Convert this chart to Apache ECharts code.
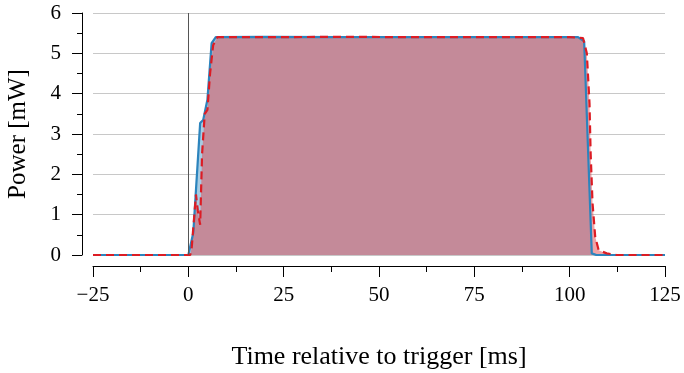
<!DOCTYPE html>
<html>
<head>
<meta charset="utf-8">
<script src="https://cdn.jsdelivr.net/npm/echarts@6/dist/echarts.min.js"></script>
<style>
html, body { margin: 0; padding: 0; background: #fff; }
#ct1 { width: 684px; height: 373px; }
</style>
</head>
<body>
<div id="ct1"></div>
<script>
var timeBlue = [-25, 0, 0.3, 1.3, 3.1, 3.9, 5.0, 6.1, 7.2, 20, 40, 60, 80, 100, 102.2, 103.8, 105.8, 107, 125];
var powerBlue = [0, 0, 0.02, 0.55, 3.27, 3.35, 3.85, 5.25, 5.4, 5.41, 5.4, 5.4, 5.4, 5.4, 5.4, 5.3, 0.04, 0, 0];
var timeRed = [-25, 0.5, 0.9, 2.0, 2.5, 3.1, 3.6, 4.3, 5.0, 5.7, 6.5, 7.6, 20, 40, 60, 80, 100, 103.5, 104.5, 105.2, 105.5, 106.0, 106.7, 107.6, 109.7, 112.3, 125];
var powerRed = [0, 0, 0.2, 1.5, 1.1, 0.75, 2.5, 3.5, 3.6, 4.5, 5.2, 5.4, 5.4, 5.41, 5.4, 5.4, 5.4, 5.38, 5.0, 3.76, 2.52, 1.28, 0.45, 0.12, 0.04, 0, 0];
var xTicks = [-25, 125, 25];
var yTicks = [0, 6, 1];

function pairs(xs, ys) {
	var out = [];
	for (var i = 0; i < xs.length; i++) {
		out.push([xs[i], ys[i]]);
	}
	return out;
}

var font = 'Liberation Serif';
var blueData = pairs(timeBlue, powerBlue);
var redData = pairs(timeRed, powerRed);

var option1 = {
	animation: false,
	grid: { left: 93, right: 19, top: 13, bottom: 118, outerBoundsMode: 'none', containLabel: false },
	xAxis: {
		type: 'value', min: xTicks[0], max: xTicks[1], interval: xTicks[2],
		offset: 11,
		name: 'Time relative to trigger [ms]', nameLocation: 'middle', nameGap: 78,
		nameTextStyle: { fontFamily: font, fontSize: 26, color: '#000' },
		axisLine: { onZero: false, lineStyle: { color: '#000', width: 1 } },
		axisTick: { length: 11, lineStyle: { color: '#000' } },
		minorTick: { show: true, splitNumber: 2, length: 6, lineStyle: { color: '#000' } },
		axisLabel: { fontFamily: font, fontSize: 21, color: '#000', margin: 19,
			formatter: function (v) { return v < 0 ? '\u2212' + (-v) : '' + v; } },
		splitLine: { show: false }
	},
	yAxis: {
		type: 'value', min: yTicks[0], max: yTicks[1], interval: yTicks[2],
		offset: 11,
		name: 'Power [mW]', nameLocation: 'middle', nameGap: 51,
		nameTextStyle: { fontFamily: font, fontSize: 25, color: '#000' },
		axisLine: { show: true, onZero: false, lineStyle: { color: '#000', width: 1 } },
		axisTick: { show: true, length: 10, lineStyle: { color: '#000' } },
		minorTick: { show: true, splitNumber: 2, length: 5, lineStyle: { color: '#000' } },
		axisLabel: { fontFamily: font, fontSize: 21, color: '#000', margin: 21 },
		splitLine: { show: true, lineStyle: { color: '#c8c8c8', width: 1 } }
	},
	series: [
		{
			type: 'line', data: blueData, symbol: 'none', z: 1,
			lineStyle: { width: 0 },
			areaStyle: { color: '#a7cde4', opacity: 1 },
			markLine: {
				silent: true, symbol: 'none', label: { show: false },
				lineStyle: { color: '#555', type: 'solid', width: 1 },
				data: [{ xAxis: 0 }]
			}
		},
		{
			type: 'line', data: redData, symbol: 'none', z: 2,
			lineStyle: { width: 0 },
			areaStyle: { color: 'rgba(226,72,77,0.5)', opacity: 1 }
		},
		{
			type: 'line', data: blueData, symbol: 'none', z: 3,
			lineStyle: { color: '#2c84bd', width: 2.2 }
		},
		{
			type: 'line', data: redData, symbol: 'none', z: 4,
			lineStyle: { color: '#dc1c24', width: 2.2, type: [8, 5] }
		}
	]
};

var myChart1 = echarts.init(document.getElementById('ct1'));
myChart1.setOption(option1, true);
</script>
</body>
</html>
